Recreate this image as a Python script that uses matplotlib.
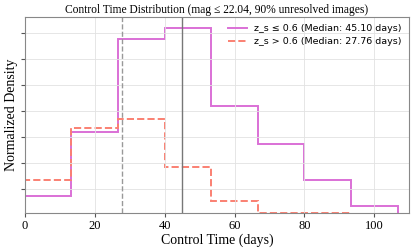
import numpy as np
import matplotlib.pyplot as plt

# bin edges (days)
edges = [0, 13.33, 26.67, 40.0, 53.33, 66.67, 80.0, 93.33, 106.67]
# normalized density
low_z = [0.0019, 0.0090, 0.0194, 0.0206, 0.0119, 0.0077, 0.0037, 0.0008]
high_z = [0.0037, 0.0095, 0.0105, 0.0051, 0.0013, 0.0, 0.0]
high_edges = edges[:8]
median_low = 45.10
median_high = 27.76

serif = ["Liberation Serif", "DejaVu Serif"]

fig = plt.figure(figsize=(4.15, 2.49), dpi=100)
ax = fig.add_axes([0.060, 0.145, 0.926, 0.787])

ax.stairs(low_z, edges, color="#DA70D6", lw=1.4,
          label=f"z_s ≤ 0.6 (Median: {median_low:.2f} days)")
ax.stairs(high_z, high_edges, color="#FA8072", lw=1.4, ls="--",
          label=f"z_s > 0.6 (Median: {median_high:.2f} days)")
ax.axvline(median_high, color="#999999", ls="--", lw=1)
ax.axvline(median_low, color="#777777", ls="-", lw=1)

ax.set_xlim(0, 110)
ax.set_ylim(0, max(low_z) * 1.06)
ax.set_yticks(np.arange(0.0027, 0.0225, 0.0029))
ax.set_yticklabels([])
ax.set_xticks([0, 20, 40, 60, 80, 100])
for lab in ax.get_xticklabels():
    lab.set_family(serif)
    lab.set_fontsize(9)
ax.tick_params(length=3, color="#555555", pad=2)
ax.grid(True, color="#e2e2e2", lw=0.6)
for s in ax.spines.values():
    s.set_color("#888888")

ax.set_xlabel("Control Time (days)", family=serif, fontsize=10, labelpad=1)
ax.set_ylabel("Normalized Density", family=serif, fontsize=10)
ax.yaxis.set_label_coords(-0.018, 0.5)
ax.set_title("Control Time Distribution (mag ≤ 22.04, 90% unresolved images)",
             family=serif, fontsize=8.3, pad=3)
ax.legend(loc="upper right", frameon=False, fontsize=6.8, handlelength=2.0,
          borderaxespad=0.4, labelspacing=0.4)

fig.savefig("out.png", dpi=100)
